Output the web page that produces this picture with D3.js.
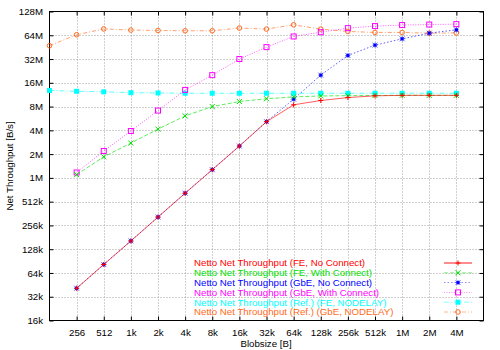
<!DOCTYPE html>
<html>
<head>
<meta charset="utf-8">
<script src="https://cdn.jsdelivr.net/npm/d3@7"></script>
<style>
body { margin: 0; background: #fff; }
svg text { font-family: "Liberation Sans", Arial, sans-serif; }
</style>
</head>
<body>
<div class="svg-div"></div>
<script>
// blob sizes in bytes, 128 .. 4M
var sizesAll = [128, 256, 512, 1024, 2048, 4096, 8192, 16384, 32768, 65536, 131072, 262144, 524288, 1048576, 2097152, 4194304]
var sizesFrom256 = sizesAll.slice(1)
var xTickLabels = ["256","512","1k","2k","4k","8k","16k","32k","64k","128k","256k","512k","1M","2M","4M"]
var yTickLabels = ["16k","32k","64k","128k","256k","512k","1M","2M","4M","8M","16M","32M","64M","128M"]

// throughput in M B/s (1M = 1048576)
var feNoConnect   = [0.04, 0.08, 0.159, 0.319, 0.64, 1.27, 2.53, 5.15, 8.42, 9.55, 10.4, 10.95, 11.1, 11.1, 11.1]
var feWithConnect = [1.10, 1.85, 2.76, 4.14, 6.1, 8.0, 9.27, 10.06, 10.6, 10.9, 11.0, 11.05, 11.1, 11.1, 11.1]
var gbeNoConnect  = [0.04, 0.08, 0.159, 0.319, 0.64, 1.27, 2.53, 5.15, 9.94, 20.0, 35.5, 48.0, 57.7, 68.0, 75.0]
var gbeWithConnect = [1.17, 2.19, 3.92, 7.12, 13.0, 20.0, 32.0, 45.3, 61.8, 70.0, 78.8, 83.7, 86.2, 87.5, 88.6]
var refFe  = [12.8, 12.5, 12.3, 12.0, 11.9, 11.8, 11.8, 11.8, 11.8, 11.8, 11.8, 11.8, 11.8, 11.8, 11.8, 11.8]
var refGbe = [47.2, 65.0, 77.0, 74.5, 73.5, 73.0, 73.0, 79.0, 76.6, 86.8, 76.6, 71.5, 69.5, 69.5, 68.0, 68.6]

var seriesNames = ["Netto Net Throughput (FE, No Connect)", "Netto Net Throughput (FE, With Connect)",
    "Netto Net Throughput (GbE, No Connect)", "Netto Net Throughput (GbE, With Connect)",
    "Netto Net Throughput (Ref.) (FE, NODELAY)", "Netto Net Throughput (Ref.) (GbE, NODELAY)"]

var series = [
    {name: seriesNames[0], x: sizesFrom256, y: feNoConnect, color: "#ff0000", dash: null, mark: "plus"},
    {name: seriesNames[1], x: sizesFrom256, y: feWithConnect, color: "#00e000", dash: "4,2", mark: "cross"},
    {name: seriesNames[2], x: sizesFrom256, y: gbeNoConnect, color: "#0000ff", dash: "1.5,2", mark: "star"},
    {name: seriesNames[3], x: sizesFrom256, y: gbeWithConnect, color: "#ff00ff", dash: "1,1.5", mark: "box"},
    {name: seriesNames[4], x: sizesAll, y: refFe, color: "#00ffff", dash: "5,2,1,2", mark: "fbox"},
    {name: seriesNames[5], x: sizesAll, y: refGbe, color: "#ff6a20", dash: "4,2,1,2", mark: "circle"}
]

var W = 500, H = 350
var pLeft = 49.5, pRight = 483.5, pTop = 11.5, pBottom = 320.5
var fontSize = "9.7px"

var svg = d3.select(".svg-div").append("svg").attr("width", W).attr("height", H)

var xScale = d3.scaleLog().base(2).domain([128, 8388608]).range([pLeft, pRight])
var yScale = d3.scaleLog().base(2).domain([16 / 1024, 128]).range([pBottom, pTop])

var xTicks = sizesFrom256
var yTicks = yTickLabels.map(function(d, i) { return Math.pow(2, i - 6) })

// grid
var grid = svg.append("g").attr("class", "grid")
grid.selectAll("line.gx").data(xTicks).join("line")
    .attr("x1", d => Math.round(xScale(d)) + 0.5).attr("x2", d => Math.round(xScale(d)) + 0.5)
    .attr("y1", pTop).attr("y2", pBottom)
    .attr("stroke", "#a0a0a0").attr("stroke-dasharray", "1,2")
grid.selectAll("line.gy").data(yTicks.slice(1, -1)).join("line")
    .attr("y1", d => Math.round(yScale(d)) + 0.5).attr("y2", d => Math.round(yScale(d)) + 0.5)
    .attr("x1", pLeft).attr("x2", pRight)
    .attr("stroke", "#a0a0a0").attr("stroke-dasharray", "1,2")

// axes
var xAxis = d3.axisBottom(xScale).tickValues(xTicks).tickFormat((d, i) => xTickLabels[i]).tickSizeInner(-4).tickSizeOuter(0).tickPadding(9)
var yAxis = d3.axisLeft(yScale).tickValues(yTicks).tickFormat((d, i) => yTickLabels[i]).tickSizeInner(-4).tickSizeOuter(0).tickPadding(6.5)
var xTop = d3.axisTop(xScale).tickValues(xTicks).tickFormat("").tickSizeInner(-4).tickSizeOuter(0)
var yRight = d3.axisRight(yScale).tickValues(yTicks).tickFormat("").tickSizeInner(-4).tickSizeOuter(0)

function styleAxis(g) {
    g.select(".domain").remove()
    g.selectAll(".tick line").attr("stroke", "#000")
    g.selectAll("text").attr("font-size", fontSize).attr("fill", "#000")
}
svg.append("g").attr("transform", "translate(0," + pBottom + ")").call(xAxis).call(styleAxis)
svg.append("g").attr("transform", "translate(" + pLeft + ",0)").call(yAxis).call(styleAxis)
svg.append("g").attr("transform", "translate(0," + pTop + ")").call(xTop).call(styleAxis)
svg.append("g").attr("transform", "translate(" + pRight + ",0)").call(yRight).call(styleAxis)

svg.append("rect").attr("x", pLeft).attr("y", pTop).attr("width", pRight - pLeft).attr("height", pBottom - pTop)
    .attr("fill", "none").attr("stroke", "#000")

// axis titles
svg.append("text").attr("x", 266).attr("y", 347).attr("text-anchor", "middle")
    .attr("font-size", fontSize).text("Blobsize [B]")
svg.append("text").attr("transform", "translate(13,166) rotate(-90)").attr("text-anchor", "middle")
    .attr("font-size", fontSize).text("Net Throughput [B/s]")

function drawMark(g, type, color, x, y) {
    var s = 2.5
    if (type === "plus") {
        g.append("path").attr("d", `M${x - s},${y}H${x + s}M${x},${y - s}V${y + s}`).attr("stroke", color).attr("fill", "none")
    } else if (type === "cross") {
        g.append("path").attr("d", `M${x - s},${y - s}L${x + s},${y + s}M${x - s},${y + s}L${x + s},${y - s}`).attr("stroke", color).attr("fill", "none")
    } else if (type === "star") {
        g.append("path").attr("d", `M${x - s},${y}H${x + s}M${x},${y - s}V${y + s}M${x - s},${y - s}L${x + s},${y + s}M${x - s},${y + s}L${x + s},${y - s}`)
            .attr("stroke", color).attr("fill", "none").attr("opacity", 0.6)
        g.append("rect").attr("x", x - 1.5).attr("y", y - 1.5).attr("width", 3).attr("height", 3).attr("fill", color)
    } else if (type === "box") {
        g.append("rect").attr("x", x - 2.5).attr("y", y - 2.5).attr("width", 5).attr("height", 5).attr("fill", "none").attr("stroke", color)
    } else if (type === "fbox") {
        g.append("rect").attr("x", x - 2.5).attr("y", y - 2.5).attr("width", 5).attr("height", 5).attr("fill", color)
    } else if (type === "circle") {
        g.append("circle").attr("cx", x).attr("cy", y).attr("r", 2.3).attr("fill", "none").attr("stroke", color)
    }
}

var line = d3.line().x(d => xScale(d[0])).y(d => yScale(d[1]))

var plot = svg.append("g").attr("class", "g-lines")
// draw in reverse so red ends on top like the original
series.slice().reverse().forEach(function(s) {
    var pts = s.x.map((v, i) => [v, s.y[i]])
    var g = plot.append("g")
    g.append("path").datum(pts).attr("d", line).attr("fill", "none").attr("stroke", s.color)
        .attr("stroke-width", 0.8).attr("stroke-dasharray", s.dash).attr("opacity", 0.8)
    pts.forEach(p => drawMark(g, s.mark, s.color, xScale(p[0]), yScale(p[1])))
})

// legend
var legend = svg.append("g").attr("class", "legend")
series.forEach(function(s, i) {
    var y = 263 + i * 9.8
    legend.append("text").attr("x", 194).attr("y", y + 3.4).attr("font-size", fontSize).attr("fill", s.color).text(s.name)
    legend.append("line").attr("x1", 444).attr("x2", 472).attr("y1", y).attr("y2", y)
        .attr("stroke", s.color).attr("stroke-width", i === 0 ? 1.5 : 0.8).attr("stroke-dasharray", s.dash).attr("opacity", 0.6)
    drawMark(legend, s.mark, s.color, 458, y)
})
</script>
</body>
</html>
